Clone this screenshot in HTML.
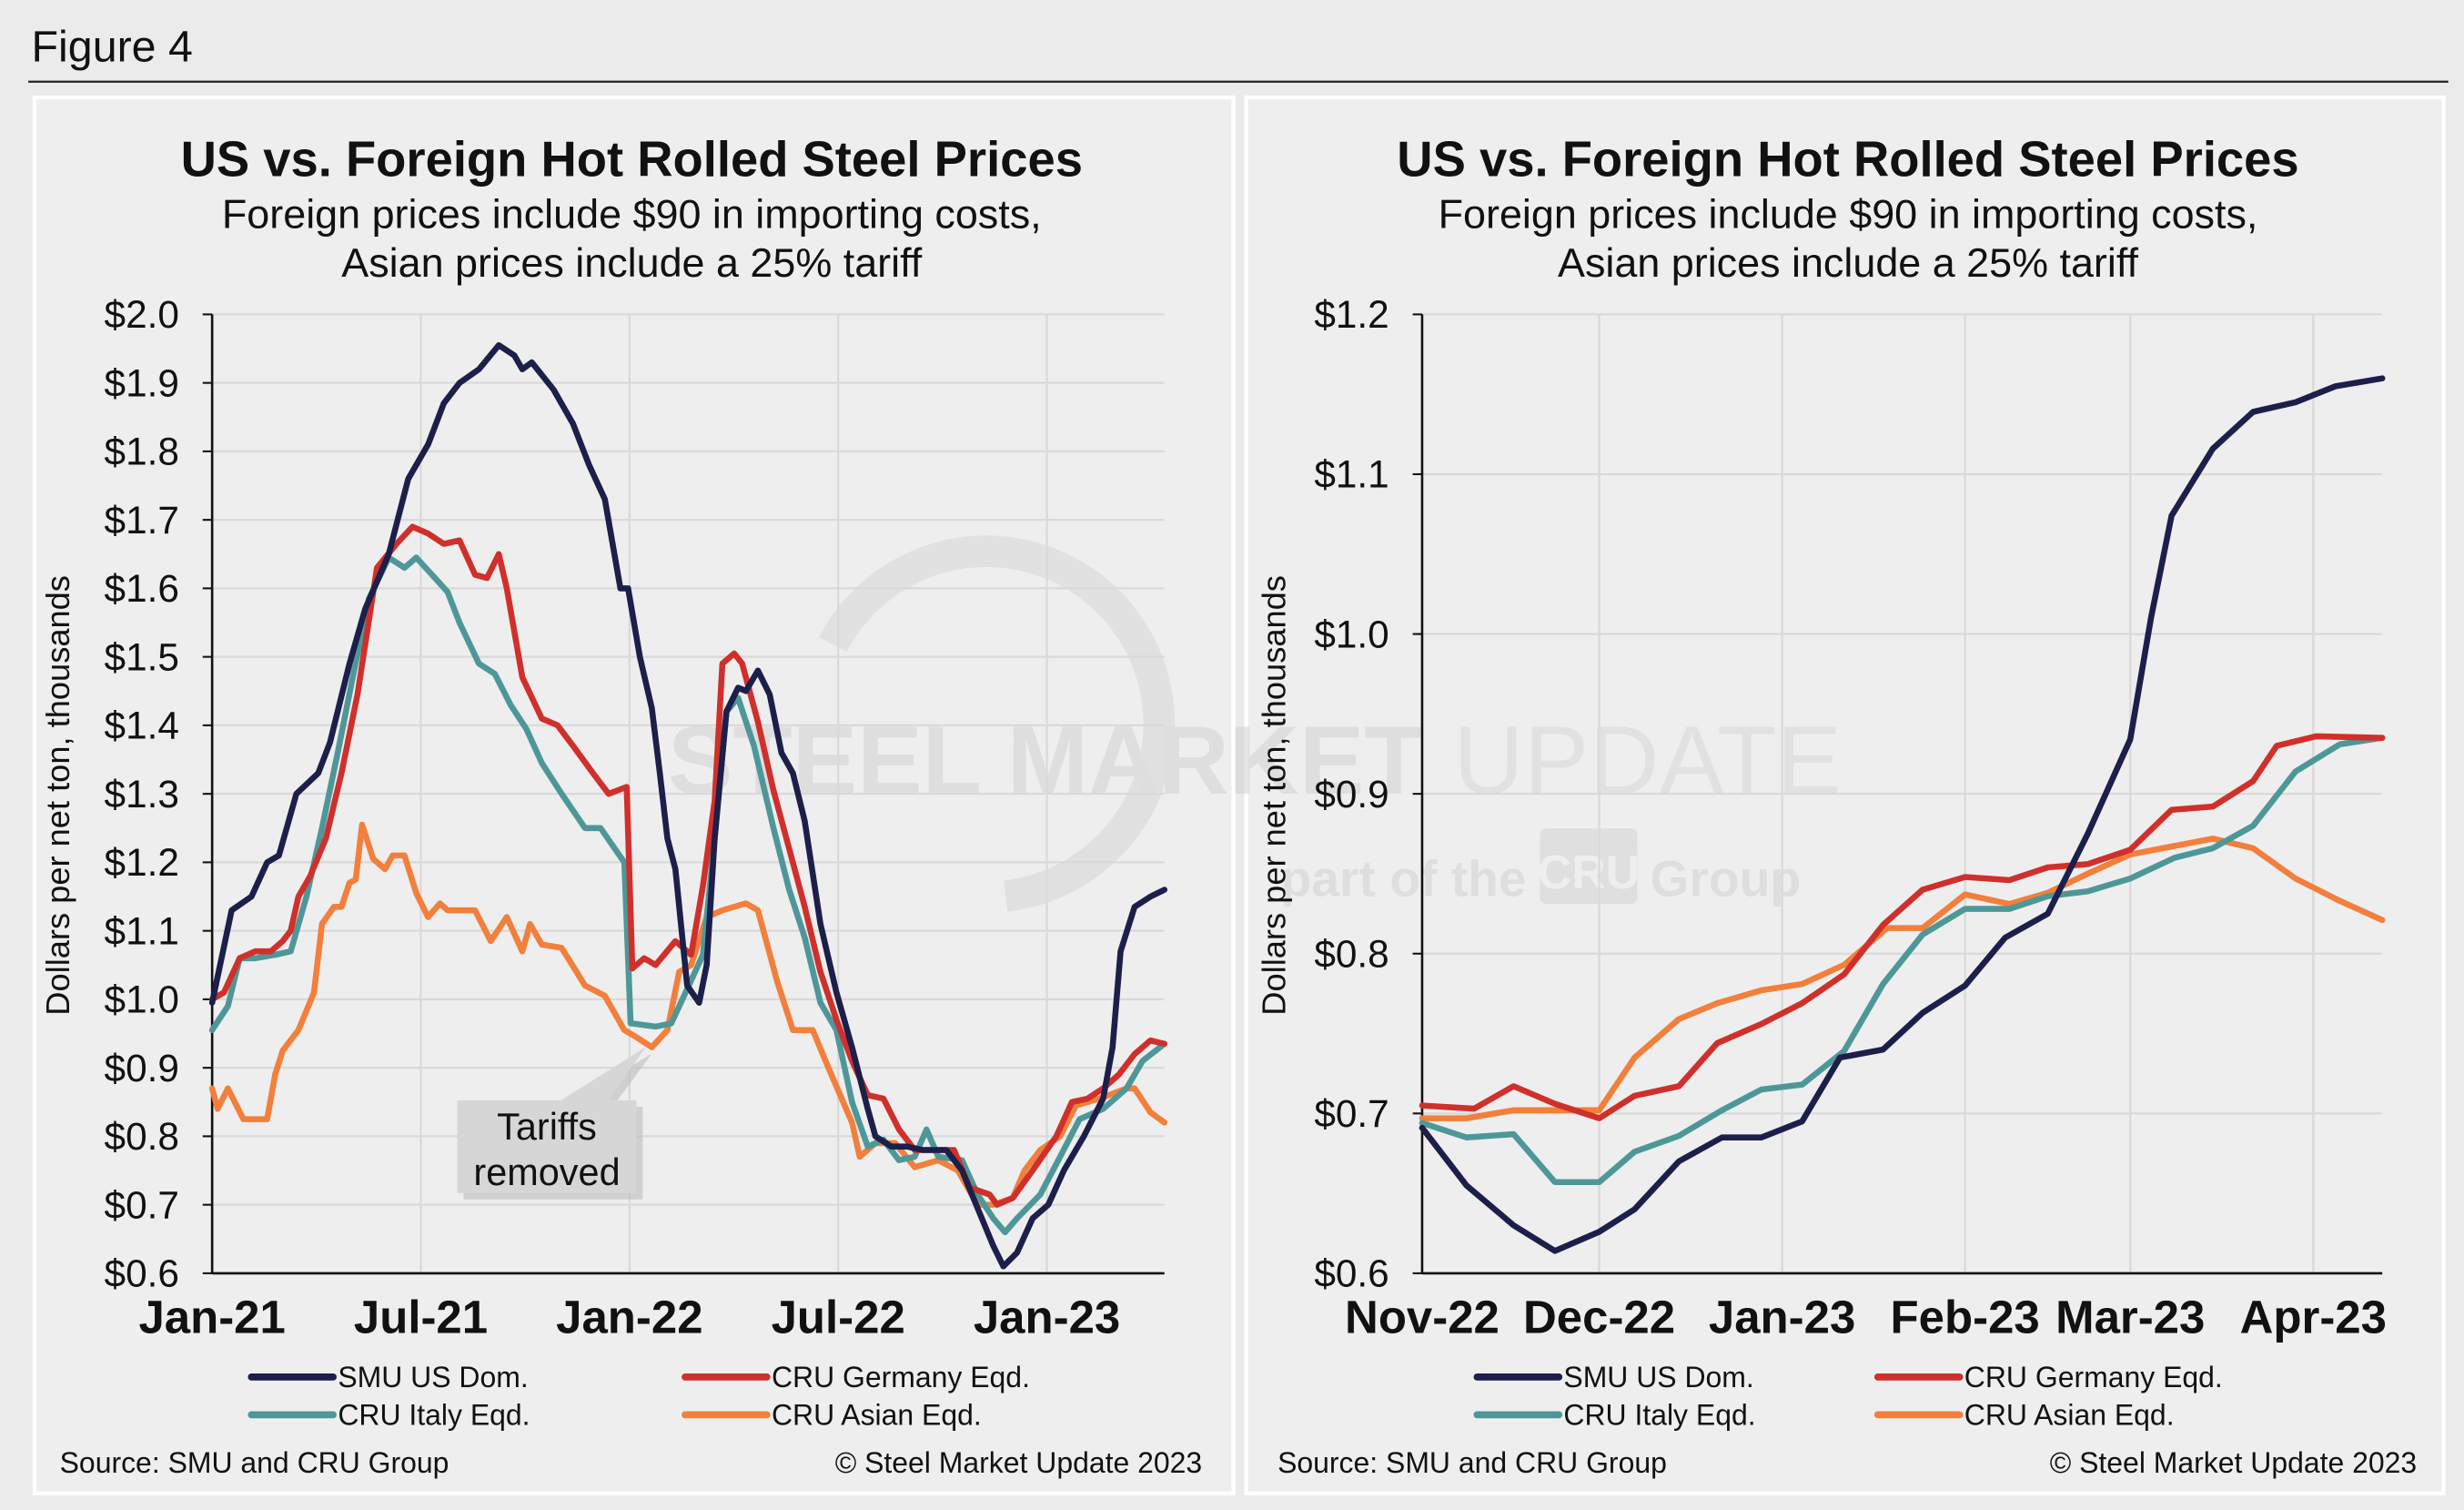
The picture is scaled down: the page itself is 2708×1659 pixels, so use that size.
<!DOCTYPE html>
<html><head><meta charset="utf-8"><style>
html,body{margin:0;padding:0;background:#ebebeb;}
svg{display:block;font-family:"Liberation Sans",Arial,sans-serif;}
</style></head><body>
<svg id="fig" width="2708" height="1659" viewBox="0 0 1568 960.6" xmlns="http://www.w3.org/2000/svg">
<rect x="0" y="0" width="1568" height="961" fill="#ebebeb"/>
<text x="20" y="39" font-size="28" fill="#111">Figure 4</text>
<line x1="18" y1="52" x2="1558" y2="52" stroke="#222" stroke-width="1.3"/>
<rect x="22" y="62" width="763" height="888" fill="#eeeeee" stroke="#fff" stroke-width="2.5"/>
<rect x="793" y="62" width="762" height="888" fill="#eeeeee" stroke="#fff" stroke-width="2.5"/>
<g id="watermark" opacity="0.5">
<path d="M 530 410 A 110 110 0 1 1 640 570" fill="none" stroke="#d4d4d4" stroke-width="20"/>
<text x="425" y="505" font-size="62" font-weight="bold" fill="#cfcfcf">STEEL MARKET</text>
<text x="925" y="505" font-size="62" fill="#d6d6d6">UPDATE</text>
<text x="815" y="570" font-size="32" font-weight="bold" fill="#d0d0d0">part of the</text>
<rect x="980" y="527" width="62" height="48" rx="4" fill="#d2d2d2"/>
<text x="1011" y="565" font-size="30" font-weight="bold" fill="#eee" text-anchor="middle">CRU</text>
<text x="1050" y="570" font-size="32" font-weight="bold" fill="#d0d0d0">Group</text>
</g>
<g id="left"></g>
<g id="right"></g>
</svg>
<script>
// ---------- LEFT CHART DATA (months since Jan-21) ----------
const leftTicks = ["Jan-21","Jul-21","Jan-22","Jul-22","Jan-23"];
const leftTickMonths = [0,6,12,18,24];
const leftYTicks = [0.6,0.7,0.8,0.9,1.0,1.1,1.2,1.3,1.4,1.5,1.6,1.7,1.8,1.9,2.0];
const smuM = [0,0.56,1.13,1.58,1.92,2.42,3.05,3.39,3.95,4.4,5.08,5.64,6.21,6.66,7.11,7.67,8.24,8.69,8.92,9.19,9.82,10.38,10.84,11.29,11.74,11.96,12.3,12.64,12.87,13.09,13.32,13.66,14.0,14.22,14.45,14.79,15.12,15.35,15.69,16.03,16.37,16.7,17.04,17.49,17.95,18.4,18.85,19.07,19.53,19.98,20.43,21.11,21.56,22.01,22.46,22.75,23.14,23.59,24.04,24.49,25.06,25.62,25.89,26.12,26.52,26.98,27.38];
const smuV = [0.995,1.13,1.15,1.2,1.21,1.3,1.33,1.375,1.49,1.57,1.65,1.76,1.81,1.87,1.9,1.92,1.955,1.94,1.92,1.93,1.89,1.84,1.78,1.73,1.6,1.6,1.5,1.425,1.33,1.235,1.19,1.02,0.995,1.05,1.235,1.42,1.455,1.45,1.48,1.445,1.36,1.33,1.26,1.11,1.01,0.93,0.84,0.8,0.785,0.785,0.78,0.78,0.75,0.695,0.64,0.61,0.63,0.68,0.7,0.75,0.8,0.855,0.93,1.07,1.135,1.15,1.16];
const gerM = [0,0.34,0.79,1.24,1.69,2.03,2.26,2.48,2.82,3.27,3.72,4.18,4.74,5.3,5.76,6.21,6.66,7.11,7.56,7.9,8.24,8.47,8.92,9.48,9.93,10.38,10.95,11.4,11.92,12.08,12.42,12.75,13.32,13.77,14.11,14.45,14.67,15.01,15.24,15.69,16.14,16.59,17.04,17.49,17.95,18.4,18.85,19.3,19.75,20.2,20.88,21.33,21.78,22.35,22.57,23.02,23.59,24.27,24.72,25.17,25.62,26.07,26.52,26.98,27.38];
const gerV = [1.0,1.01,1.06,1.07,1.07,1.085,1.1,1.15,1.18,1.235,1.33,1.445,1.63,1.665,1.69,1.68,1.665,1.67,1.62,1.615,1.65,1.6,1.47,1.41,1.4,1.37,1.33,1.3,1.31,1.045,1.06,1.05,1.085,1.065,1.165,1.29,1.49,1.505,1.49,1.405,1.305,1.22,1.135,1.04,0.97,0.91,0.86,0.855,0.81,0.78,0.78,0.78,0.725,0.715,0.7,0.71,0.75,0.8,0.85,0.855,0.87,0.89,0.92,0.94,0.935];
const itaM = [0,0.45,0.79,1.24,1.81,2.26,2.71,3.16,3.61,4.06,4.51,5.08,5.53,5.87,6.32,6.77,7.11,7.67,8.13,8.58,9.03,9.48,10.05,10.72,11.17,11.85,12.03,12.75,13.2,13.66,14.11,14.45,14.79,15.12,15.58,16.14,16.59,17.04,17.49,17.95,18.4,18.85,19.3,19.75,20.2,20.54,20.88,21.56,22.01,22.46,22.8,23.14,23.81,24.38,24.94,25.62,26.29,26.75,27.38];
const itaV = [0.955,0.99,1.06,1.06,1.065,1.07,1.15,1.25,1.36,1.475,1.585,1.645,1.63,1.645,1.62,1.595,1.55,1.49,1.475,1.43,1.395,1.345,1.3,1.25,1.25,1.2,0.965,0.96,0.965,1.015,1.065,1.235,1.42,1.44,1.37,1.25,1.16,1.09,0.995,0.955,0.85,0.785,0.795,0.765,0.77,0.81,0.77,0.765,0.715,0.68,0.66,0.68,0.715,0.77,0.825,0.84,0.87,0.91,0.935];
const asiM = [0,0.16,0.45,0.9,1.58,1.81,2.03,2.48,2.93,3.16,3.5,3.72,3.95,4.13,4.31,4.63,4.97,5.19,5.53,5.87,6.21,6.55,6.77,7.56,8.01,8.47,8.92,9.14,9.48,10.05,10.72,11.29,11.85,12.19,12.64,13.09,13.43,13.77,14.22,14.67,15.35,15.69,16.25,16.7,17.27,17.72,18.4,18.62,19.07,19.64,20.2,20.88,21.44,22.01,22.46,23.02,23.36,23.81,24.38,24.83,25.51,26.29,26.52,26.98,27.38];
const asiV = [0.87,0.84,0.87,0.825,0.825,0.89,0.925,0.955,1.01,1.11,1.135,1.135,1.17,1.175,1.255,1.205,1.19,1.21,1.21,1.155,1.12,1.14,1.13,1.13,1.085,1.12,1.07,1.11,1.08,1.075,1.02,1.005,0.955,0.945,0.93,0.955,1.04,1.05,1.12,1.13,1.14,1.13,1.025,0.955,0.955,0.9,0.82,0.77,0.79,0.79,0.755,0.765,0.75,0.7,0.7,0.71,0.75,0.78,0.8,0.845,0.855,0.87,0.87,0.835,0.82];

// ---------- RIGHT CHART DATA (days since 1 Nov 2022) ----------
const rightTicks = ["Nov-22","Dec-22","Jan-23","Feb-23","Mar-23","Apr-23"];
const rightTickDays = [0,30,61,92,120,151];
const rightYTicks = [0.6,0.7,0.8,0.9,1.0,1.1,1.2];
const rSmuD = [0,7.5,15.5,22.5,30,36,43.5,50.8,57.5,64.4,70.8,78.1,84.8,92,98.8,106,112.8,120,123.5,127,134,140.8,148,154.8,162.7];
const rSmuV = [0.691,0.655,0.63,0.614,0.626,0.64,0.67,0.685,0.685,0.695,0.735,0.74,0.763,0.78,0.81,0.825,0.875,0.934,1.01,1.074,1.116,1.139,1.145,1.155,1.16];
const rGerD = [0,8.8,15.5,22.5,30,36,43.5,50,57.5,64.4,71.5,78.1,84.8,92,99.5,106,112.8,120,127,134,140.8,144.8,151.5,162.7];
const rGerV = [0.705,0.703,0.717,0.706,0.697,0.711,0.717,0.744,0.756,0.769,0.787,0.818,0.84,0.848,0.846,0.854,0.856,0.865,0.89,0.892,0.908,0.93,0.936,0.935];
const rItaD = [0,7.5,15.5,22.5,30,36,43.5,50.8,57.5,64.4,71.5,78.1,84.8,92,99.5,106,112.8,120,127.5,134,140.8,148,155.5,162.7];
const rItaV = [0.694,0.685,0.687,0.657,0.657,0.676,0.686,0.702,0.715,0.718,0.739,0.781,0.812,0.828,0.828,0.836,0.839,0.847,0.86,0.866,0.88,0.914,0.931,0.935];
const rAsiD = [0,7.5,15.5,22.5,30,36,43.5,50,57.5,64.4,71.5,78.8,84.8,92,99.5,106,112.8,120,127,134,140.8,148,155.5,162.7];
const rAsiV = [0.697,0.697,0.702,0.702,0.702,0.735,0.759,0.769,0.777,0.781,0.793,0.816,0.816,0.837,0.831,0.838,0.85,0.862,0.867,0.872,0.866,0.847,0.833,0.821];

const NS = "http://www.w3.org/2000/svg";
const COL = {smu:"#1c1f4a", ger:"#d0302b", ita:"#4e9799", asi:"#f27f3b"};
function mk(parent, tag, attrs, text){
  const e = document.createElementNS(NS, tag);
  for (const k in attrs) e.setAttribute(k, attrs[k]);
  if (text !== undefined) e.textContent = text;
  parent.appendChild(e);
  return e;
}

function drawChart(g, cfg){
  const xs = v => cfg.x0 + (v - cfg.d0) / (cfg.d1 - cfg.d0) * (cfg.x1 - cfg.x0);
  const ys = v => cfg.y0 + (v - cfg.v0) / (cfg.v1 - cfg.v0) * (cfg.y1 - cfg.y0);
  let t = mk(g,"text",{x:cfg.cx,y:112,"font-size":31.5,"font-weight":"bold","text-anchor":"middle",fill:"#111"},"US vs. Foreign Hot Rolled Steel Prices");
  
  
  t = mk(g,"text",{x:cfg.cx,y:145,"font-size":26,"text-anchor":"middle",fill:"#111"},"Foreign prices include $90 in importing costs,");
  
  
  t = mk(g,"text",{x:cfg.cx,y:176,"font-size":26,"text-anchor":"middle",fill:"#111"},"Asian prices include a 25% tariff");
  
  
  cfg.yTicks.forEach(v=>{
    const y = ys(v);
    if (v !== cfg.v0) {
      const l = mk(g,"line",{x1:cfg.x0,x2:cfg.x1,y1:y,y2:y,stroke:"#d9d9d9","stroke-width":1.3});
      
      
    }
    const tk = mk(g,"line",{x1:cfg.x0-6,x2:cfg.x0,y1:y,y2:y,stroke:"#111","stroke-width":1.2});
    
    
    const lab = mk(g,"text",{x:cfg.x0-21,y:y+8.5,"font-size":24.5,"text-anchor":"end",fill:"#111"},"$"+v.toFixed(1));
    
    
  });
  cfg.xTickPos.forEach((d,i)=>{
    const x = xs(d);
    if (d !== cfg.d0) {
      const l = mk(g,"line",{x1:x,x2:x,y1:cfg.y1,y2:cfg.y0,stroke:"#d9d9d9","stroke-width":1.3});
      
      
    }
    const lab = mk(g,"text",{x:x,y:848,"font-size":29.5,"font-weight":"bold","text-anchor":"middle",fill:"#111"},cfg.xTicks[i]);
    
    
  });
  let a = mk(g,"line",{x1:cfg.x0,x2:cfg.x0,y1:cfg.y1,y2:cfg.y0,stroke:"#111","stroke-width":1.5});
  
  
  a = mk(g,"line",{x1:cfg.x0,x2:cfg.x1,y1:cfg.y0,y2:cfg.y0,stroke:"#111","stroke-width":1.5});
  
  
  t = mk(g,"text",{x:0,y:0,"font-size":21,"text-anchor":"middle",fill:"#111",transform:"translate("+cfg.ytx+",506) rotate(-90)"},"Dollars per net ton, thousands");
  
  
  if (cfg.callout) cfg.callout(g);
  cfg.series.forEach(s=>{
    const pts = s.d.map((d,i)=> xs(d).toFixed(1)+","+ys(s.v[i]).toFixed(1)).join(" ");
    const p = mk(g,"polyline",{points:pts,fill:"none",stroke:s.c,"stroke-width":3.8,"stroke-linejoin":"round","stroke-linecap":"round"});
    
    
  });
  const L = cfg.legend;
  [["SMU US Dom.",COL.smu,L[0],876],["CRU Germany Eqd.",COL.ger,L[1],876],["CRU Italy Eqd.",COL.ita,L[0],900],["CRU Asian Eqd.",COL.asi,L[1],900]].forEach(e=>{
    const ln = mk(g,"line",{x1:e[2],x2:e[2]+52,y1:e[3],y2:e[3],stroke:e[1],"stroke-width":4.5,"stroke-linecap":"round"});
    
    
    const tx = mk(g,"text",{x:e[2]+55,y:e[3]+6.5,"font-size":18.5,fill:"#111"},e[0]);
    
    
  });
  t = mk(g,"text",{x:cfg.srcX,y:937,"font-size":18.5,fill:"#111"},"Source: SMU and CRU Group");
  
  
  t = mk(g,"text",{x:cfg.copyX,y:937,"font-size":18.5,fill:"#111","text-anchor":"end"},"© Steel Market Update 2023");
  
  
}

drawChart(document.getElementById('left'), {
  cx:402, x0:135, x1:741, d0:0, d1:27.38, y0:810, y1:200, v0:0.6, v1:2.0,
  yTicks:leftYTicks, xTicks:leftTicks, xTickPos:leftTickMonths, ytx:44,
  legend:[160,436], srcX:38, copyX:765,
  series:[
    {name:'series-cru-asian', d:asiM, v:asiV, c:COL.asi},
    {name:'series-cru-italy', d:itaM, v:itaV, c:COL.ita},
    {name:'series-cru-germany', d:gerM, v:gerV, c:COL.ger},
    {name:'series-smu-us', d:smuM, v:smuV, c:COL.smu}
  ],
  callout: function(g){
    const sh = mk(g,"polygon",{points:"295,704 360,704 415,670 390,704 409,704 409,763 295,763",fill:"#bdbdbd",opacity:"0.6"});
    
    
    const b = mk(g,"polygon",{points:"291,700 357,700 411,666 387,700 405,700 405,759 291,759",fill:"#d6d6d6"});
    
    
    let t1 = mk(g,"text",{x:348,y:725,"font-size":24,"text-anchor":"middle",fill:"#111"},"Tariffs");
    
    
    t1 = mk(g,"text",{x:348,y:754,"font-size":24,"text-anchor":"middle",fill:"#111"},"removed");
    
    
  }
});

drawChart(document.getElementById('right'), {
  cx:1176, x0:905, x1:1516, d0:0, d1:162.7, y0:810, y1:200, v0:0.6, v1:1.2,
  yTicks:rightYTicks, xTicks:rightTicks, xTickPos:rightTickDays, ytx:818,
  legend:[940,1195], srcX:813, copyX:1538,
  series:[
    {name:'series-cru-asian', d:rAsiD, v:rAsiV, c:COL.asi},
    {name:'series-cru-italy', d:rItaD, v:rItaV, c:COL.ita},
    {name:'series-cru-germany', d:rGerD, v:rGerV, c:COL.ger},
    {name:'series-smu-us', d:rSmuD, v:rSmuV, c:COL.smu}
  ]
});
</script>
</body></html>
